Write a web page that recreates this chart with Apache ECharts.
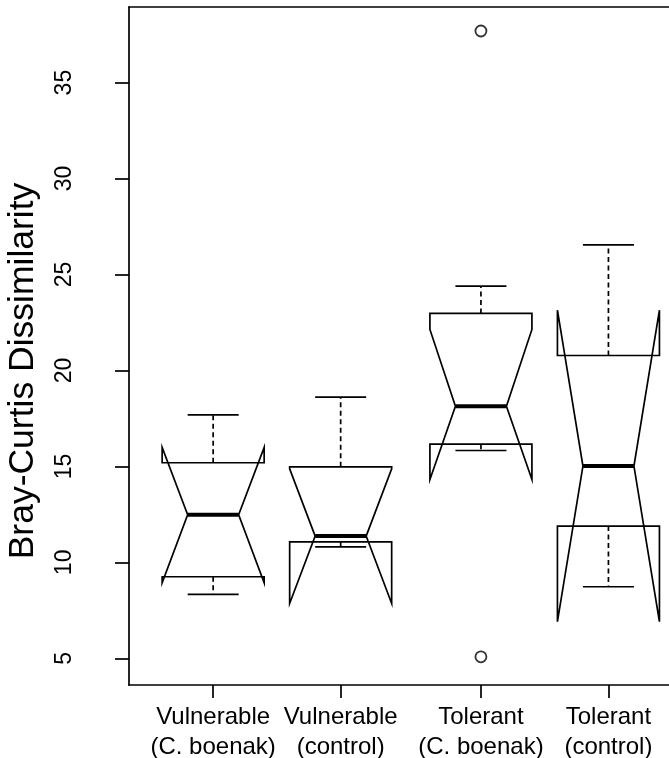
<!DOCTYPE html>
<html>
<head>
<meta charset="utf-8">
<script src="https://cdn.jsdelivr.net/npm/echarts@6/dist/echarts.min.js"></script>
<style>
html,body{margin:0;padding:0;background:#fff;}
#chart{width:669px;height:758px;}
</style>
</head>
<body>
<div id="chart"></div>
<script>
// ---- data ----
const categories = ['Vulnerable\n(C. boenak)', 'Vulnerable\n(control)', 'Tolerant\n(C. boenak)', 'Tolerant\n(control)'];
const positions = [1, 2, 3.1, 4.1];
const lowerWhisker = [8.33, 10.81, 15.83, 8.73];
const q1 = [9.25, 11.07, 16.16, 11.89];
const median = [12.48, 11.37, 18.14, 15.02];
const q3 = [15.19, 14.98, 22.97, 20.78];
const upperWhisker = [17.69, 18.61, 24.39, 26.54];
const notchLow = [8.94, 7.86, 14.32, 6.91];
const notchHigh = [15.99, 14.88, 22.14, 23.14];
const outlierPos = [3.1, 3.1];
const outlierVal = [37.69, 5.08];
const yTicks = [5, 10, 15, 20, 25, 30, 35];
const yTitle = 'Bray-Curtis Dissimilarity';

// ---- chart ----
const FONT = '"Liberation Sans", Arial, Helvetica, sans-serif';
const LW = 1.7;
const boxData = positions.map((p, i) => [p, lowerWhisker[i], q1[i], median[i], q3[i], upperWhisker[i], notchLow[i], notchHigh[i]]);
const outData = outlierPos.map((p, i) => [p, outlierVal[i]]);

function renderBox(params, api) {
  const pos = api.value(0);
  const Y = v => api.coord([pos, v])[1];
  const x = api.coord([pos, api.value(3)])[0];
  const hw = api.size([0.4, 0])[0];
  const lw = Y(api.value(1)), b1 = Y(api.value(2)), md = Y(api.value(3)),
        b3 = Y(api.value(4)), uw = Y(api.value(5)), nl = Y(api.value(6)), nu = Y(api.value(7));
  const stroke = {stroke: '#000', lineWidth: LW, fill: null};
  const dashed = {stroke: '#000', lineWidth: LW, lineDash: [5, 3.5]};
  return {
    type: 'group',
    children: [
      {type: 'line', shape: {x1: x, y1: b3, x2: x, y2: uw}, style: dashed},
      {type: 'line', shape: {x1: x, y1: b1, x2: x, y2: lw}, style: dashed},
      {type: 'line', shape: {x1: x - hw / 2, y1: uw, x2: x + hw / 2, y2: uw}, style: stroke},
      {type: 'line', shape: {x1: x - hw / 2, y1: lw, x2: x + hw / 2, y2: lw}, style: stroke},
      {type: 'polygon', shape: {points: [
        [x - hw, b1], [x - hw, nl], [x - hw / 2, md], [x - hw, nu], [x - hw, b3],
        [x + hw, b3], [x + hw, nu], [x + hw / 2, md], [x + hw, nl], [x + hw, b1]
      ]}, style: {stroke: '#000', lineWidth: LW, fill: 'rgba(0,0,0,0)', lineJoin: 'miter'}},
      {type: 'line', shape: {x1: x - hw / 2, y1: md, x2: x + hw / 2, y2: md}, style: {stroke: '#000', lineWidth: 4}}
    ]
  };
}

const chart = echarts.init(document.getElementById('chart'), null, {renderer: 'canvas'});
chart.setOption({
  animation: false,
  backgroundColor: '#fff',
  grid: {left: 129, right: 0, top: 7, bottom: 73, show: false, containLabel: false, outerBoundsMode: 'none'},
  xAxis: [{
    type: 'value', min: 0.34, max: 4.575, position: 'bottom',
    splitLine: {show: false},
    axisLine: {show: true, onZero: false, lineStyle: {color: '#000', width: LW}},
    axisTick: {show: true, length: 13, inside: false, customValues: positions, lineStyle: {color: '#000', width: LW}},
    axisLabel: {
      show: true, customValues: positions, margin: 17,
      formatter: v => { const i = positions.indexOf(v); return i >= 0 ? categories[i] : ''; },
      fontFamily: FONT, fontSize: 24, color: '#000', lineHeight: 30
    }
  }, {
    type: 'value', min: 0.34, max: 4.575, position: 'top',
    splitLine: {show: false},
    axisLine: {show: true, onZero: false, lineStyle: {color: '#000', width: LW}},
    axisTick: {show: false}, axisLabel: {show: false}
  }],
  yAxis: {
    type: 'value', min: 3.61, max: 38.94,
    splitLine: {show: false},
    axisLine: {show: true, onZero: false, lineStyle: {color: '#000', width: LW}},
    axisTick: {show: true, length: 14, inside: false, customValues: yTicks, lineStyle: {color: '#000', width: LW}},
    axisLabel: {show: true, customValues: yTicks, rotate: 90, margin: 53, fontFamily: FONT, fontSize: 23, color: '#000'}
  },
  graphic: [{
    type: 'text', x: 23, y: 371, rotation: Math.PI / 2,
    style: {text: yTitle, fontFamily: FONT, fontSize: 35.5, fill: '#000', align: 'center', verticalAlign: 'middle'}
  }],
  series: [
    {type: 'custom', renderItem: renderBox, data: boxData, encode: {x: 0, y: [1, 2, 3, 4, 5, 6, 7]}, clip: false, silent: true},
    {type: 'scatter', data: outData, symbol: 'circle', symbolSize: 11,
     itemStyle: {color: 'rgba(0,0,0,0)', borderColor: '#000', borderWidth: 1.8}, silent: true}
  ]
});
</script>
</body>
</html>
